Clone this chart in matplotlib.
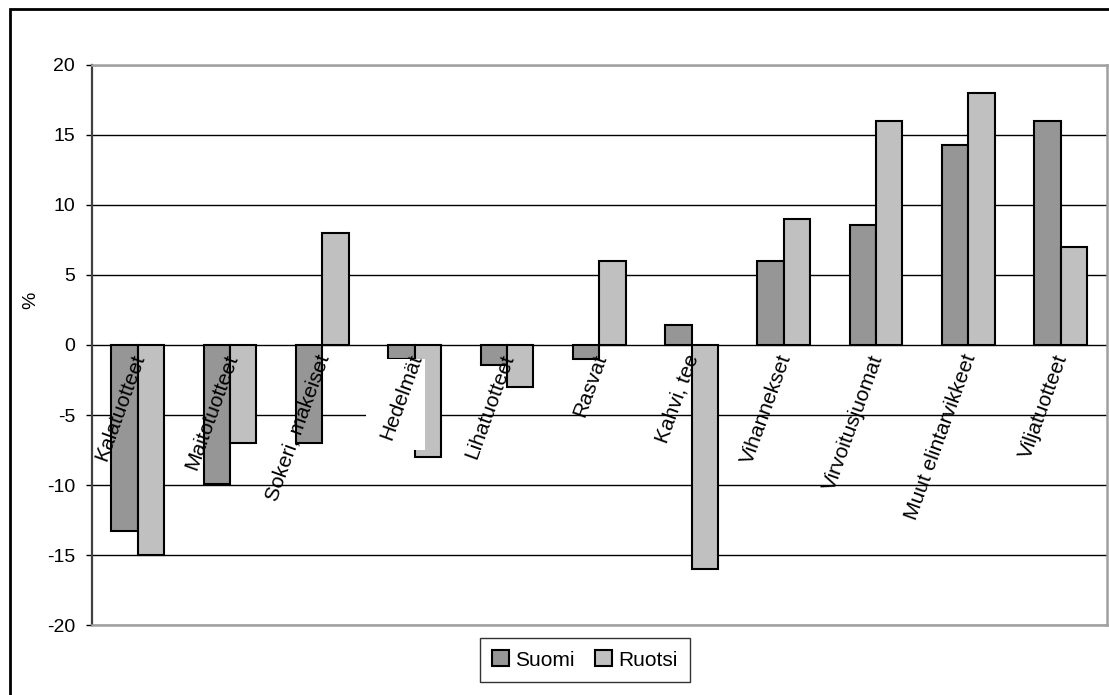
import numpy as np
import matplotlib.pyplot as plt
from matplotlib.patches import Rectangle

plt.rcParams['font.family'] = ['Liberation Sans', 'DejaVu Sans']

# Data
kategoriat = ['Kalatuotteet', 'Maitotuotteet', 'Sokeri, makeiset', 'Hedelmät',
              'Lihatuotteet', 'Rasvat', 'Kahvi, tee', 'Vihannekset',
              'Virvoitusjuomat', 'Muut elintarvikkeet', 'Viljatuotteet']
suomi = [-13.3, -9.9, -7.0, -1.0, -1.4, -1.0, 1.4, 6.0, 8.6, 14.3, 16.0]
ruotsi = [-15.0, -7.0, 8.0, -8.0, -3.0, 6.0, -16.0, 9.0, 16.0, 18.0, 7.0]
yticks = [-20, -15, -10, -5, 0, 5, 10, 15, 20]

fig = plt.figure(figsize=(11.09, 6.95), dpi=100)
ax = fig.add_axes([0.0827, 0.1007, 0.9153, 0.8058])

x = np.arange(len(kategoriat))
w = 1 / 3.5
ax.bar(x - w / 2, suomi, w, color='#969696', edgecolor='black', linewidth=1.5,
       label='Suomi', zorder=3)
ax.bar(x + w / 2, ruotsi, w, color='#c0c0c0', edgecolor='black', linewidth=1.5,
       label='Ruotsi', zorder=3)

ax.set_xlim(-0.5, len(kategoriat) - 0.5)
ax.set_ylim(-20, 20)
ax.set_yticks(yticks)
ax.set_yticklabels([str(t) for t in yticks], fontsize=14)
ax.tick_params(axis='y', direction='out', length=4, width=1, pad=8, color='black')
ax.set_xticks([])
ax.yaxis.grid(True, color='black', linewidth=1)
ax.set_axisbelow(True)

ax.spines['left'].set_color('#404040')
ax.spines['left'].set_linewidth(1.6)
for s in ['top', 'bottom', 'right']:
    ax.spines[s].set_color('#a0a0a0')
    ax.spines[s].set_linewidth(1.8)

ax.set_ylabel('%', fontsize=14)
ax.yaxis.set_label_coords(-0.052, 0.58)

# valkoinen laatikko Hedelmät-otsikon kohdalla
i_h = kategoriat.index('Hedelmät')
ax.add_patch(Rectangle((i_h - 0.53, -7.5), 0.64, 7.5 + suomi[i_h],
                       facecolor='white', edgecolor='none', zorder=4))

# kategoriaotsikot nollaviivan alle
for i, k in enumerate(kategoriat):
    ax.annotate(k, xy=(i, 0), xytext=(-5, -5), textcoords='offset points',
                rotation=70, rotation_mode='anchor', ha='right', va='top',
                fontsize=15, zorder=5)

leg = ax.legend(loc='center', bbox_to_anchor=(585 / 1109, 1 - 660 / 695),
                bbox_transform=fig.transFigure, ncol=2, fontsize=15,
                frameon=True, fancybox=False, edgecolor='black',
                handlelength=0.8, handleheight=0.8, handletextpad=0.3,
                columnspacing=1.0, borderpad=0.6)
leg.get_frame().set_linewidth(1)

# ulkokehys
fig.patches.append(Rectangle((10 / 1109, -0.1), 1.2, 1.1 - 9 / 695,
                             transform=fig.transFigure, fill=False,
                             edgecolor='black', linewidth=2))

fig.savefig('out.png', dpi=100)
